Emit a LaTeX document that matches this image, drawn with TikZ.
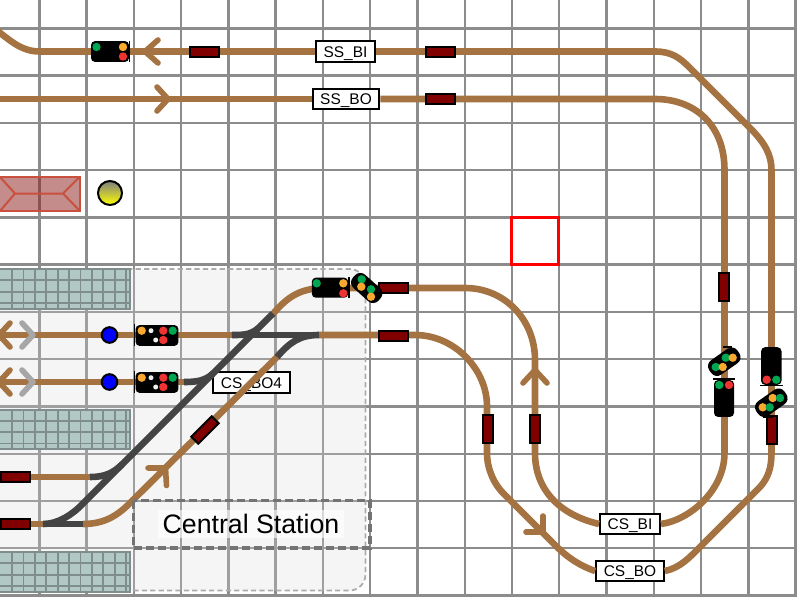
\documentclass[tikz,border=0pt]{standalone}
\usepackage{fontspec}
\setmainfont{Liberation Sans}
\definecolor{trackbrown}{HTML}{A57341}
\definecolor{trackdark}{HTML}{444444}
\definecolor{blockred}{HTML}{800000}
\definecolor{gridgray}{HTML}{8C8C8C}
\definecolor{platformgreen}{HTML}{B2C8C4}
\definecolor{platformline}{HTML}{7F8E8C}
\definecolor{buildingfill}{HTML}{8B1A1A}
\definecolor{buildingline}{HTML}{C8503C}
\definecolor{lampred}{HTML}{EE3333}
\definecolor{lampgreen}{HTML}{00A651}
\definecolor{lamporange}{HTML}{F9A92F}
\definecolor{lampwhite}{HTML}{EEEEEE}
\tikzset{
    gridline/.style={gridgray, line width=0.6mm},
    track/.style={trackbrown, line width=1.65mm},
    trackswitch/.style={trackdark, line width=1.65mm},
    travelarrow/.style={trackbrown, line width=1.4mm, line cap=round, line join=round},
    exitarrow/.style={black!35, line width=1.4mm, line cap=round, line join=round},
    blockbox/.style={draw=black, line width=0.5mm, fill=blockred, inner sep=0pt, minimum width=7.2mm, minimum height=2.5mm},
    blocklabel/.style={draw=black, line width=0.5mm, fill=white, inner xsep=1.9mm, inner ysep=0pt, minimum height=5.2mm, text height=2.8mm, text depth=0pt, font=\fontsize{11}{13}\selectfont},
    signalbody/.style={fill=black, inner sep=0pt, rounded corners=1mm},
    signalturn/.style={fill=black, inner sep=0pt, rounded corners=1.8mm, minimum width=8.6mm, minimum height=4.4mm},
    signalbar/.style={black, line width=0.3mm},
    sensor/.style={circle, draw=black, line width=0.5mm, fill=blue, inner sep=0pt, minimum size=3.9mm},
}
\begin{document}
\begin{tikzpicture}[x=0.25mm, y=-0.25mm]
    \path[use as bounding box, clip] (0, 0) rectangle (800, 600);

    % grid
    \foreach \col in {0,...,16} {
        \draw[gridline] ({39.3 + 47.27 * \col}, 0) -- ({39.3 + 47.27 * \col}, 597);
    }
    \foreach \row in {0,...,12} {
        \draw[gridline] (0, {28.3 + 47.27 * \row}) -- (797, {28.3 + 47.27 * \row});
    }

    % station area
    \draw[black!33, line width=0.45mm, dash pattern=on 1.3mm off 0.8mm, fill=black!15, fill opacity=0.25, rounded corners=4mm] (-30, 269) rectangle (365.5, 590.5);

    % platforms
    \foreach \top in {269, 409.5, 552} {
        \fill[platformgreen] (0, \top) rectangle (130, \top + 39.5);
        \foreach \col in {1,...,11} {
            \draw[platformline, line width=0.45mm] ({0.7 + 11.4 * \col}, \top) -- ({0.7 + 11.4 * \col}, \top + 39.5);
        }
        \foreach \row in {1,2,3} {
            \draw[platformline, line width=0.45mm] (0, \top + 11.3 * \row) -- (130, \top + 11.3 * \row);
        }
        \draw[platformline, line width=0.5mm] (-5, \top) rectangle (130, \top + 39.5);
    }

    % building
    \draw[buildingline, line width=0.5mm, fill=buildingfill, fill opacity=0.5] (-5, 176.5) rectangle (80, 211);
    \draw[buildingline, line width=0.5mm] (0, 177) -- (15, 193.5) -- (63, 193.5) -- (80, 176.5) (0, 211) -- (15, 193.5) (63, 193.5) -- (80, 211);

    % lamp
    \node[circle, draw=black, line width=0.5mm, top color=black!50, bottom color=yellow, inner sep=0pt, minimum size=6mm] (lamp_a) at (110, 193) {};

    % red marker
    \draw[red, line width=0.9mm] (511.5, 217.5) rectangle (558.5, 264.5);

    % block labels
    \node[blocklabel] (ss_bi) at (345.5, 51.5) {SS\_BI};
    \node[blocklabel] (ss_bo) at (346, 99) {SS\_BO};
    \node[blocklabel] (cs_bo4) at (251.5, 382.5) {CS\_BO4};
    \node[blocklabel] (cs_bi) at (630, 524) {CS\_BI};
    \node[blocklabel] (cs_bo) at (630, 571) {CS\_BO};

    % main tracks
    \draw[track] (-5, 29) .. controls (12, 42) and (22, 51.5) .. (40, 51.5) -- (ss_bi.west);
    \draw[track] (ss_bi.east) -- (655, 51.5) .. controls (672, 51.5) and (680, 58) .. (690, 68) -- (750, 128) .. controls (765, 143) and (771.5, 155) .. (771.5, 170) -- (771.5, 453) .. controls (771.5, 468) and (768, 478) .. (760, 487) -- (700, 547) .. controls (690, 557) and (680, 568) .. (cs_bo.east);
    \draw[track] (-5, 99) -- (ss_bo.west);
    \draw[track] (ss_bo.east) -- (655, 99) .. controls (695, 99) and (724.5, 125) .. (724.5, 170) -- (724.5, 453) .. controls (724.5, 490) and (690, 520) .. (cs_bi.east);
    \draw[track] (cs_bi.west) .. controls (560, 515) and (535, 490) .. (535, 453) -- (535, 360) .. controls (535, 320) and (505, 288) .. (465, 288) -- (325, 288) .. controls (297, 288) and (285, 300) .. (272, 315);
    \draw[track] (cs_bo.west) .. controls (580, 566) and (567, 557) .. (556.7, 546.7) -- (503, 493) .. controls (495, 485) and (487, 470) .. (487, 453) -- (487, 406) .. controls (487, 370) and (455, 335) .. (415, 335) -- (319, 335);

    % yard tracks
    \draw[track] (-5, 335) -- (232, 335);
    \draw[track] (-5, 382) -- (184, 382);
    \draw[track] (0, 477) -- (90, 477);
    \draw[track] (0, 524) -- (43, 524);
    \draw[track] (83, 524) .. controls (105, 524) and (118, 515) .. (130, 503) -- (277, 357);

    % switches
    \draw[trackswitch] (43, 524) .. controls (58, 524) and (72, 515) .. (83, 503.5) -- (273, 313.5);
    \draw[trackswitch] (43, 524) -- (83, 524);
    \draw[trackswitch] (90, 477) .. controls (105, 477) and (113, 473) .. (122, 464.5);
    \draw[trackswitch] (184, 382) .. controls (196, 382) and (205, 381) .. (213, 373.5);
    \draw[trackswitch] (232, 335) .. controls (243, 335) and (250, 335) .. (258, 328.5);
    \draw[trackswitch] (232, 335) -- (319, 335);
    \draw[trackswitch] (319, 335) .. controls (300, 335) and (290, 342) .. (277, 357);

    % travel arrows
    \draw[travelarrow] (158, 40) -- (145, 51.5) -- (158, 63);
    \draw[travelarrow] (157, 87) -- (168, 99) -- (157, 111);
    \draw[travelarrow] (10, 323) -- (-1, 335) -- (10, 347);
    \draw[travelarrow] (10, 370) -- (-1, 382) -- (10, 394);
    \draw[exitarrow] (22, 323) -- (33, 335) -- (22, 347);
    \draw[exitarrow] (22, 370) -- (33, 382) -- (22, 394);
    \draw[travelarrow] (148, 468) -- (165.5, 468) -- (166.5, 485.5);
    \draw[travelarrow] (523, 383) -- (535, 370) -- (547, 383);
    \draw[travelarrow] (543, 516) -- (543, 532) -- (526, 532);

    % sensors
    \node[sensor] (sensor_a) at (109.5, 335) {};
    \node[sensor] (sensor_b) at (109.5, 382) {};

    % blocks
    \node[blockbox] (block_a) at (204.5, 51.5) {};
    \node[blockbox] (block_b) at (440.5, 51.5) {};
    \node[blockbox] (block_c) at (440.5, 99) {};
    \node[blockbox] (block_d) at (393.5, 288) {};
    \node[blockbox] (block_e) at (393.5, 335.5) {};
    \node[blockbox] (block_f) at (15.5, 477) {};
    \node[blockbox] (block_g) at (15.5, 524) {};
    \node[blockbox, rotate=45] (block_h) at (205, 430) {};
    \node[blockbox, rotate=90] (block_i) at (488, 429) {};
    \node[blockbox, rotate=90] (block_j) at (535, 429) {};
    \node[blockbox, rotate=90] (block_k) at (724, 287) {};
    \node[blockbox, rotate=90] (block_l) at (771.5, 430) {};

    % signals
    \node[signalbody, minimum width=9.5mm, minimum height=5.2mm] (sig_a) at (110, 51.5) {};
    \node[signalbody, minimum width=10.7mm, minimum height=5.2mm] (sig_b) at (157, 335.5) {};
    \node[signalbody, minimum width=10.7mm, minimum height=5.2mm] (sig_c) at (157, 382.5) {};
    \node[signalbody, minimum width=9.1mm, minimum height=5mm] (sig_d) at (330, 287.7) {};
    \node[signalturn, rotate=-42] (sig_e) at (366.7, 288) {};
    \node[signalturn, rotate=35] (sig_f) at (724.3, 361.7) {};
    \node[signalbody, minimum width=5mm, minimum height=9.2mm] (sig_g) at (724, 398.5) {};
    \node[signalbody, minimum width=5.1mm, minimum height=9.4mm] (sig_h) at (771.3, 366) {};
    \node[signalturn, rotate=35] (sig_i) at (771.3, 402.7) {};

    \draw[signalbar] (129.5, 41) -- (129.5, 62);
    \draw[signalbar] (134.5, 324) -- (134.5, 346);
    \draw[signalbar] (134.5, 371) -- (134.5, 393);
    \draw[signalbar] (349, 277) -- (349, 298);
    \draw[signalbar] (376, 299) -- (381, 292);
    \draw[signalbar] (722.7, 347) -- (732.3, 347);
    \draw[signalbar] (713, 379) -- (735, 379);
    \draw[signalbar] (760, 385.5) -- (783, 385.5);
    \draw[signalbar] (762.7, 417) -- (773.3, 417);

    \foreach \lampx/\lampy/\lampcol in {96.5/47/lampgreen, 123/47/lamporange, 123/56.5/lampred,
        141.7/330.7/lamporange, 163.3/330.7/lampred, 172.7/330.7/lampgreen, 163.3/340/lampred,
        141.7/377.7/lamporange, 163.3/377.7/lampred, 172.7/377.7/lampgreen, 163.3/387/lampred,
        316.7/283.3/lampgreen, 343.3/283.3/lamporange, 343.3/293.3/lampred,
        361.7/279.3/lampgreen, 361.3/286.7/lamporange, 371/289.3/lampgreen, 371/296.7/lamporange,
        715.7/367/lampgreen, 722.7/367/lamporange, 725.7/357.7/lampgreen, 732.7/357.7/lamporange,
        719.3/385/lampgreen, 729/385/lampred,
        766.7/379.7/lampred, 776.3/379.7/lampgreen,
        762.7/407.3/lamporange, 769.7/407.3/lampgreen, 772.7/398/lamporange, 780/398/lampgreen} {
        \fill[\lampcol] (\lampx, \lampy) circle (4.2);
    }
    \foreach \lampx/\lampy in {151/330.7, 155.7/340, 151/377.7, 155.7/387} {
        \fill[lampwhite] (\lampx, \lampy) circle (2.5);
    }

    % station name
    \draw[black!55, line width=0.9mm, dash pattern=on 2mm off 1mm] (133.5, 500.5) rectangle (370, 548);
    \node[fill=white, fill opacity=0.6, text opacity=1, inner xsep=1.2mm, inner ysep=1mm, font=\fontsize{19}{23}\selectfont] (station_name) at (251, 524) {Central Station};
\end{tikzpicture}
\end{document}
